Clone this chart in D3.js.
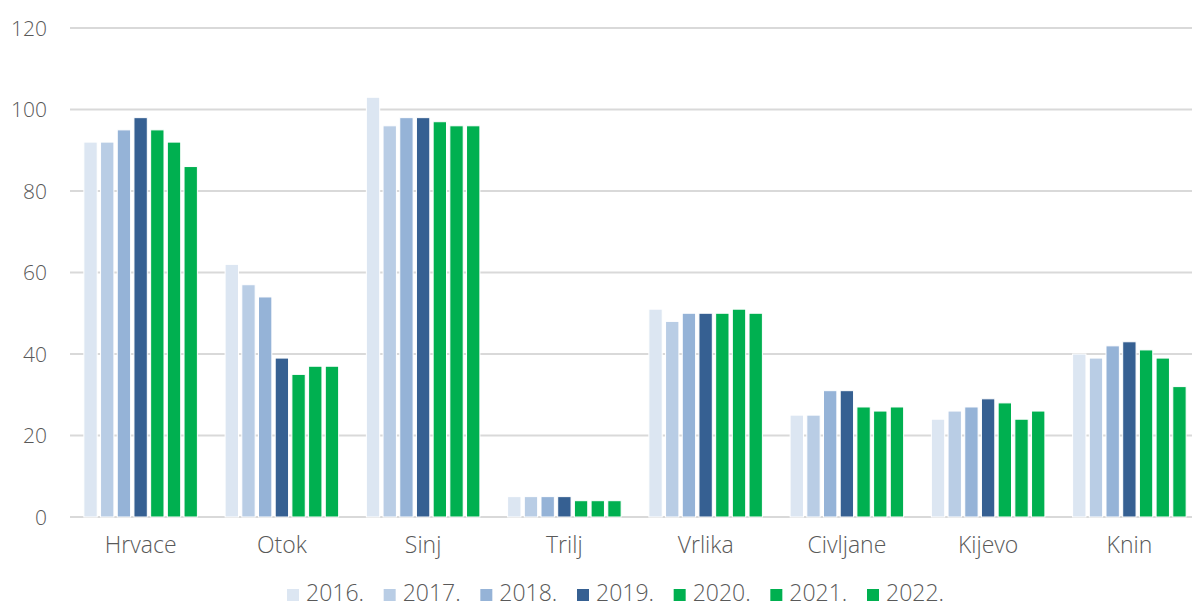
<!DOCTYPE html>
<html>
  <head>
    <meta charset="utf-8">
    <title>Chart</title>
    <script src="https://d3js.org/d3.v7.min.js"></script>
    <style>
      body { margin: 0; background: #fff; }
      svg { display: block; }
      text { font-family: "Open Sans", sans-serif; font-weight: 300; fill: #595959; }
      .yaxis .tick text { font-size: 21px; }
      .xaxis .tick text { font-size: 23px; }
      .legend text { font-size: 23px; }
    </style>
  </head>
  <body>
    <svg id="chart" width="1192" height="608"></svg>
    <script>
      // chart data
      const categories = ["Hrvace", "Otok", "Sinj", "Trilj", "Vrlika", "Civljane", "Kijevo", "Knin"];
      const years = ["2016.", "2017.", "2018.", "2019.", "2020.", "2021.", "2022."];
      const v2016 = [92, 62, 103, 5, 51, 25, 24, 40];
      const v2017 = [92, 57, 96, 5, 48, 25, 26, 39];
      const v2018 = [95, 54, 98, 5, 50, 31, 27, 42];
      const v2019 = [98, 39, 98, 5, 50, 31, 29, 43];
      const v2020 = [95, 35, 97, 4, 50, 27, 28, 41];
      const v2021 = [92, 37, 96, 4, 51, 26, 24, 39];
      const v2022 = [86, 37, 96, 4, 50, 27, 26, 32];
      const yTicks = [0, 20, 40, 60, 80, 100, 120];
      const colors = ["#dce6f2", "#b9cde5", "#95b3d7", "#366092", "#00b050", "#00b050", "#00b050"];

      const series = [v2016, v2017, v2018, v2019, v2020, v2021, v2022];
      const data = categories.map(function(c, i) {
        return { cat: c, values: series.map(function(s, j) { return { year: years[j], value: s[i] }; }) };
      });

      const svg = d3.select("#chart");
      const margin = { top: 28, left: 70, right: -8, bottom: 91 };
      const width = 1192, height = 608;

      const x = d3.scaleBand().domain(categories).range([margin.left, width - margin.right]).paddingInner(0).paddingOuter(0);
      const xi = d3.scaleBand().domain(years).range([0, x.bandwidth()]).paddingInner(0.2).paddingOuter(0.83);
      const y = d3.scaleLinear().domain([0, 120]).range([height - margin.bottom, margin.top]);

      // gridlines
      svg.append("g")
        .selectAll("line")
        .data(yTicks)
        .enter().append("line")
          .attr("x1", margin.left)
          .attr("x2", width)
          .attr("y1", function(d) { return y(d); })
          .attr("y2", function(d) { return y(d); })
          .attr("stroke", "#d9d9d9")
          .attr("stroke-width", 2);

      // y axis labels
      const yAxis = d3.axisLeft(y).tickValues(yTicks).tickSize(0).tickPadding(0);
      svg.append("g")
        .attr("class", "yaxis")
        .attr("transform", "translate(47,0)")
        .call(yAxis)
        .call(function(g) { g.select(".domain").remove(); })
        .selectAll("text").attr("dy", "0.35em");

      // x axis labels
      const xAxis = d3.axisBottom(x).tickSize(0).tickPadding(0);
      svg.append("g")
        .attr("class", "xaxis")
        .attr("transform", "translate(0,553)")
        .call(xAxis)
        .call(function(g) { g.select(".domain").remove(); })
        .selectAll("text").attr("dy", "0");

      // bars
      const groups = svg.append("g")
        .selectAll("g")
        .data(data)
        .enter().append("g")
          .attr("transform", function(d) { return "translate(" + x(d.cat) + ",0)"; });
      groups.selectAll("rect")
        .data(function(d) { return d.values; })
        .enter().append("rect")
          .attr("x", function(d) { return xi(d.year); })
          .attr("width", xi.bandwidth())
          .attr("y", function(d) { return y(d.value); })
          .attr("height", function(d) { return y(0) - y(d.value); })
          .attr("fill", function(d, i) { return colors[i]; })
          .attr("stroke", "#ffffff")
          .attr("stroke-width", 1);

      // legend
      const legendX = d3.scalePoint().domain(years).range([287, 867]);
      const legend = svg.append("g").attr("class", "legend")
        .selectAll("g")
        .data(years)
        .enter().append("g")
          .attr("transform", function(d) { return "translate(" + legendX(d) + ",589)"; });
      legend.append("rect")
        .attr("width", 12)
        .attr("height", 12)
        .attr("fill", function(d, i) { return colors[i]; });
      legend.append("text")
        .attr("x", 19)
        .attr("y", 12)
        .text(function(d) { return d; });
    </script>
  </body>
</html>
